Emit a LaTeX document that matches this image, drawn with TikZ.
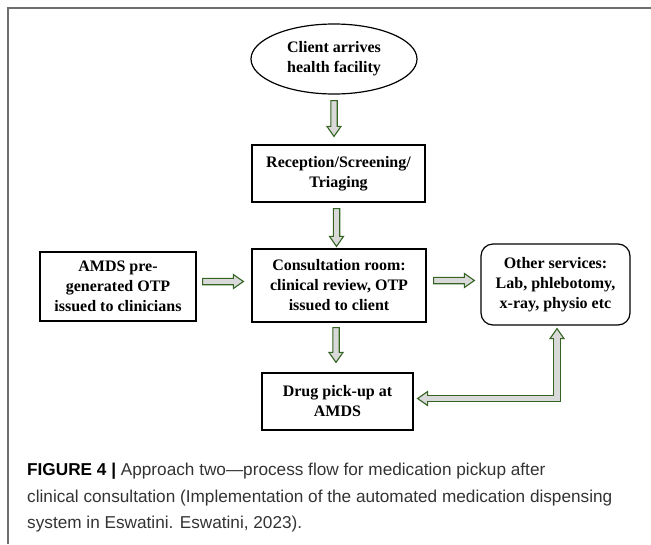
\documentclass[tikz,border=0pt]{standalone}
\usepackage{fontspec}
\setmainfont{Liberation Serif}
\newfontfamily\capfont{Liberation Sans}
\usetikzlibrary{calc,shapes.geometric,positioning}

\begin{document}
\begin{tikzpicture}[x=1pt,y=-1pt,
  box/.style={draw,line width=1.2pt,align=center,inner sep=2pt,
    font=\bfseries\fontsize{16}{20}\selectfont},
  arrow body/.style={draw=flow,line width=1.1pt,fill=flowfill,line join=miter}]
\definecolor{flow}{RGB}{52,100,34} \definecolor{flowfill}{RGB}{217,217,217}
\definecolor{framegray}{RGB}{110,110,110} \definecolor{captext}{RGB}{51,51,51}
\def\flowarrow#1#2{%
  \path ($(#2)!10pt!(#1)$) coordinate (h);
  \draw [arrow body] ($(#1)!3.2pt!90:(#2)$) -- ($(h)!3.2pt!90:(#2)$)
    -- ($(h)!7pt!90:(#2)$) -- (#2) -- ($(h)!7pt!-90:(#2)$)
    -- ($(h)!3.2pt!-90:(#2)$) -- ($(#1)!3.2pt!-90:(#2)$) -- cycle;}
\useasboundingbox (0,0) rectangle (651,544);
\draw [framegray,line width=1.5pt] (8,544) -- (8,8) -- (651,8);
% boxes
\node (client) at (334,59) [box,ellipse,minimum width=166,minimum height=70,inner sep=0pt]
  {Client arrives\\health facility};
\node (reception) at (338.5,173.5) [box,minimum width=173,minimum height=57]
  {Reception/Screening/\\Triaging};
\node (consult) at (339,285.5) [box,minimum width=174,minimum height=73]
  {Consultation room:\\clinical review, OTP\\issued to client};
\node (amds) at (118,286.5) [box,minimum width=156,minimum height=69]
  {AMDS pre-\\generated OTP\\issued to clinicians};
\node (others) at (555.5,284.5) [box,rounded corners=12pt,minimum width=149,minimum height=81]
  {Other services:\\Lab, phlebotomy,\\x-ray, physio etc};
\node (drug) at (337.5,401.5) [box,minimum width=151,minimum height=57]
  {Drug pick-up at\\AMDS};
% arrow ends
\path (client.south) ++(0,6) coordinate (a1s);
\path (a1s |- reception.north) ++(0,-8) coordinate (a1e);
\path (reception.south) ++(-2,6) coordinate (a2s);
\path (a2s |- consult.north) ++(0,-2) coordinate (a2e);
\path (amds.east) ++(6,-5) coordinate (a3s);
\path (a3s -| consult.west) ++(-8,0) coordinate (a3e);
\path (consult.east) ++(7,-5) coordinate (a4s);
\path (a4s -| others.west) ++(-6,0) coordinate (a4e);
\path (consult.south) ++(-3,5) coordinate (a5s);
\path (a5s |- drug.north) ++(0,-10) coordinate (a5e);
\foreach \from/\to in {a1s/a1e,a2s/a2e,a3s/a3e,a4s/a4e,a5s/a5e}
  \flowarrow{\from}{\to};
% two-headed elbow between drug pick-up and other services
\path (others.south) ++(1.5,3) coordinate (e1);
\path (drug.east) ++(4,-3) coordinate (e2);
\coordinate (corner) at (e1 |- e2);
\draw [flow,line width=7.5pt] ($(e1)+(0,9)$) -- (corner) -- ($(e2)+(9,0)$);
\draw [arrow body] (e1) -- ++(7,10) -- ++(-14,0) -- cycle;
\draw [arrow body] (e2) -- ++(10,-7) -- ++(0,14) -- cycle;
\draw [flowfill,line width=5.3pt] ($(e1)+(0,9)$) -- (corner) -- ($(e2)+(9,0)$);
% caption
\node (caption) at (27,463) [anchor=north west,inner sep=0pt,align=left,text=captext,
  font=\capfont\fontsize{17.2}{26.5}\selectfont]
  {\textcolor{black}{\textbf{FIGURE 4 |}} Approach two—process flow for medication pickup after\\
   clinical consultation (Implementation of the automated medication dispensing\\
   system in Eswatini. Eswatini, 2023).};
\end{tikzpicture}
\end{document}
